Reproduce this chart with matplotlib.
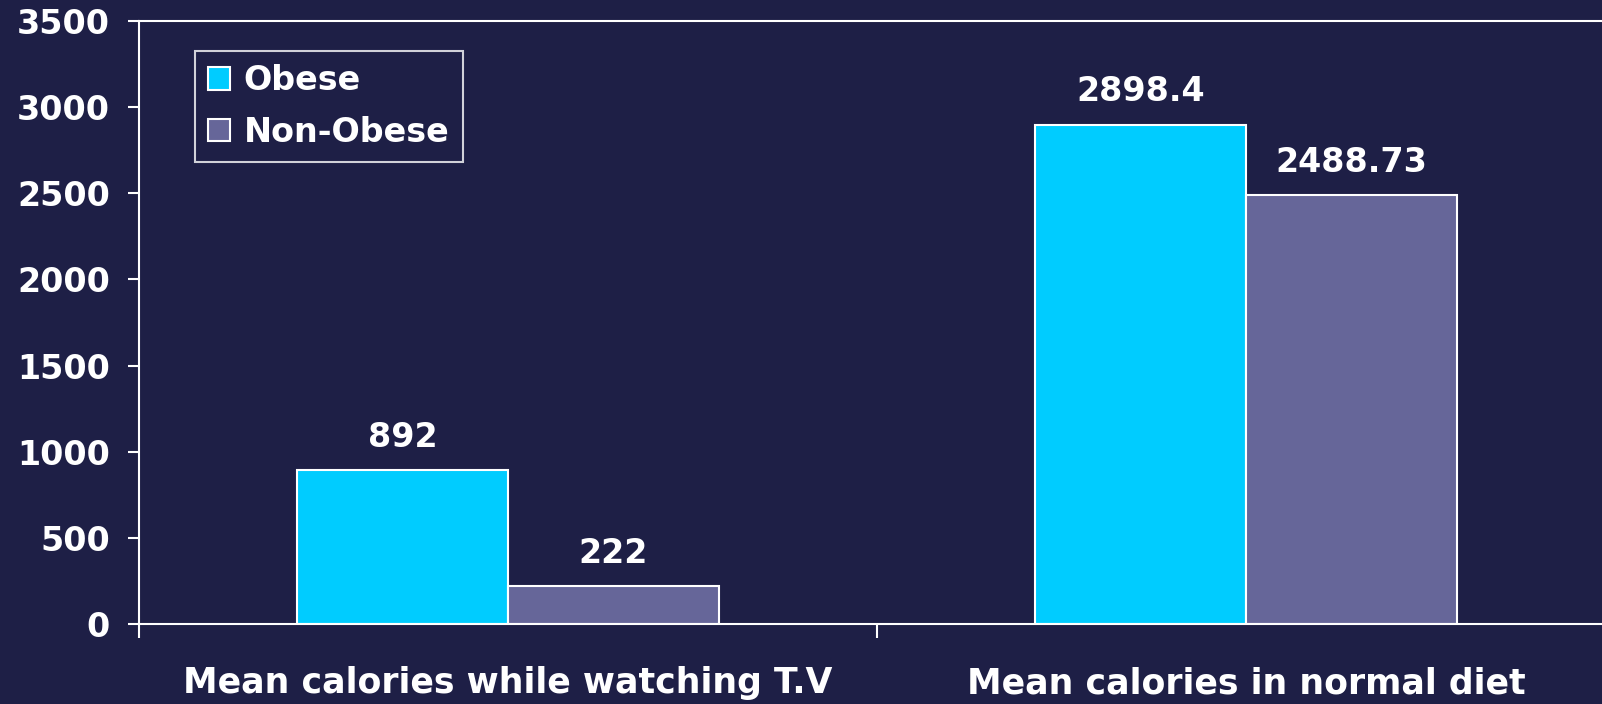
import numpy as np
import matplotlib.pyplot as plt

categories = ['Mean calories while watching T.V', 'Mean calories in normal diet']
obese = [892, 2898.4]
non_obese = [222, 2488.73]
obese_labels = ['892', '2898.4']
non_obese_labels = ['222', '2488.73']
yticks = [0, 500, 1000, 1500, 2000, 2500, 3000, 3500]

bg = '#1e1f46'
c_obese = '#00ccff'
c_non = '#666699'

plt.rcParams['font.family'] = ['DejaVu Sans']
plt.rcParams['font.weight'] = 'bold'

fig = plt.figure(figsize=(16.02, 7.04), dpi=100, facecolor=bg)
ax = fig.add_axes([139/1602, 80/704, 1476/1602, 603/704], facecolor=bg)

x = np.arange(len(categories))
w = 0.286
ax.bar(x - w/2, obese, w, color=c_obese, edgecolor='white', linewidth=1.5, label='Obese')
ax.bar(x + w/2, non_obese, w, color=c_non, edgecolor='white', linewidth=1.5, label='Non-Obese')

for xi, v, t in zip(x - w/2, obese, obese_labels):
	ax.text(xi, v + 190, t, ha='center', va='center', color='white', fontsize=24, fontweight='bold')
for xi, v, t in zip(x + w/2, non_obese, non_obese_labels):
	ax.text(xi, v + 190, t, ha='center', va='center', color='white', fontsize=24, fontweight='bold')

ax.set_xlim(-0.5, 1.5)
ax.set_ylim(0, 3500)
ax.set_yticks(yticks)
ax.set_yticklabels([str(t) for t in yticks], fontsize=24, fontweight='bold', color='white')
ax.set_xticks([-0.5, 0.5, 1.5])
ax.set_xticklabels(['', '', ''])
for xi, c in zip(x, categories):
	ax.text(xi, -0.098, c, transform=ax.get_xaxis_transform(), ha='center', va='center',
		color='white', fontsize=25, fontweight='bold')

ax.tick_params(axis='y', colors='white', length=8, width=1.5, pad=13)
ax.tick_params(axis='x', colors='white', length=10, width=1.5)
for s in ['left', 'bottom', 'top']:
	ax.spines[s].set_color('white')
	ax.spines[s].set_linewidth(1.5)
ax.spines['right'].set_visible(False)

leg = ax.legend(loc='upper left', bbox_to_anchor=(56/1476, 1 - 30/603), fontsize=24,
	frameon=True, fancybox=False, edgecolor='white', facecolor=bg, labelcolor='white',
	handlelength=0.66, handleheight=0.66, handletextpad=0.4, borderpad=0.4, labelspacing=0.55,
	borderaxespad=0)
leg.get_frame().set_linewidth(1.5)
for t in leg.get_texts():
	t.set_fontweight('bold')

plt.savefig('out.png', facecolor=bg)
